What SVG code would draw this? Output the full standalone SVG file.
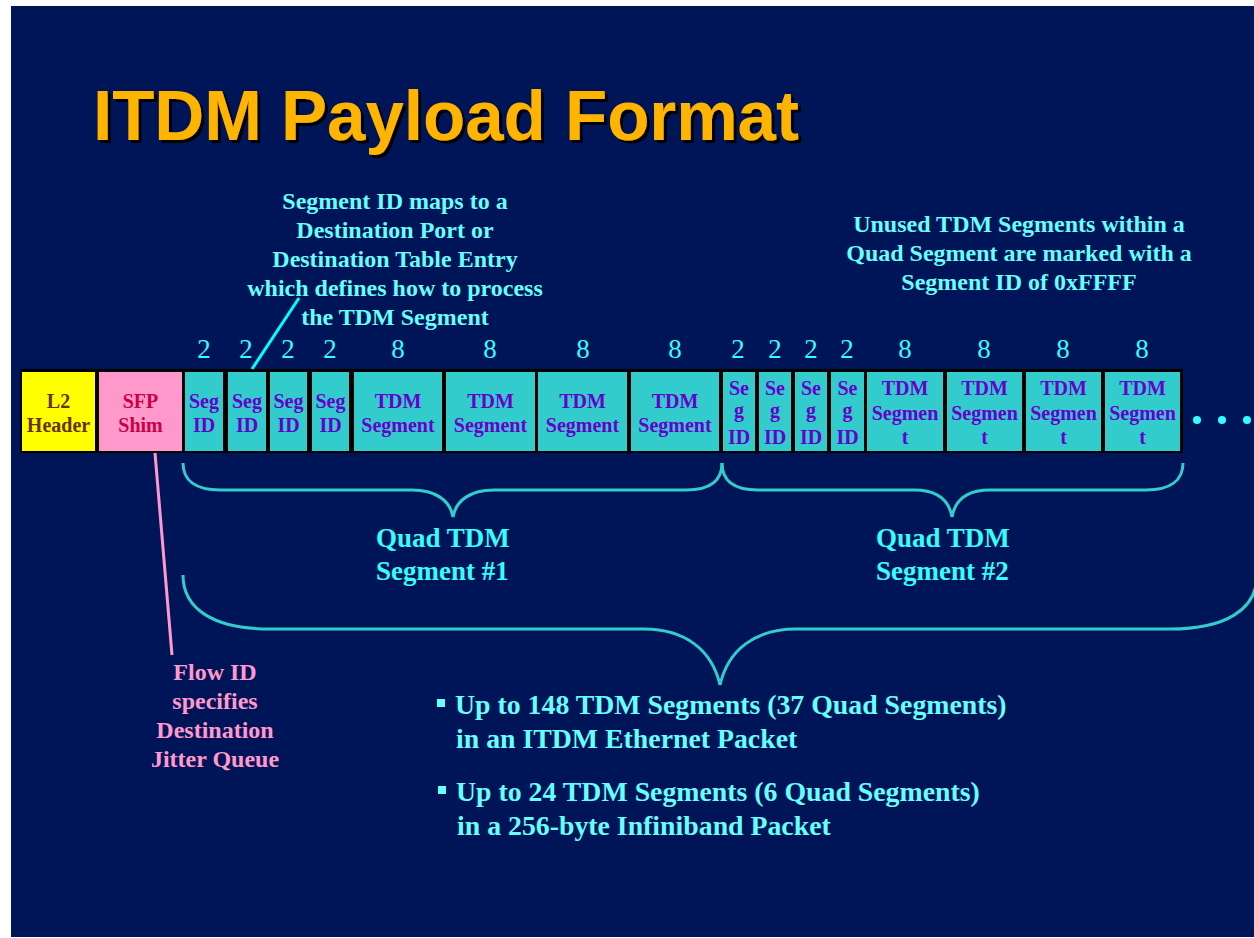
<svg xmlns="http://www.w3.org/2000/svg" width="1254" height="938" viewBox="0 0 1254 938">
<style>
.cell{fill:#33CCCC}
.ct{font-family:"Liberation Serif",serif;font-weight:bold;font-size:20px;fill:#6600CC;text-anchor:middle}
.num{font-family:"Liberation Serif",serif;font-size:27px;fill:#33FFFF;text-anchor:middle}
.note{font-family:"Liberation Serif",serif;font-weight:bold;font-size:24px;fill:#66FFFF;text-anchor:middle}
.pink{font-family:"Liberation Serif",serif;font-weight:bold;font-size:24px;fill:#FF99CC;text-anchor:middle}
.quad{font-family:"Liberation Serif",serif;font-weight:bold;font-size:27px;fill:#33FFFF}
.bul{font-family:"Liberation Serif",serif;font-weight:bold;font-size:27.8px;fill:#66FFFF}
.brace{fill:none;stroke:#33CCCC;stroke-width:3}
</style>
<defs>
<filter id="shadow" x="-5%" y="-20%" width="110%" height="140%">
<feFlood flood-color="#000000" result="c"/>
<feComposite in="c" in2="SourceAlpha" operator="in" result="s"/>
<feOffset in="s" dx="3" dy="3" result="o"/>
<feMerge><feMergeNode in="o"/><feMergeNode in="SourceGraphic"/></feMerge>
</filter>
</defs>
<rect x="0" y="0" width="1254" height="938" fill="#FFFFFF"/>
<rect x="11" y="6" width="1243" height="931" fill="#001458"/>
<g id="title">
<text x="93" y="140" font-family="'Liberation Sans',Arial,sans-serif" font-weight="bold" font-size="71" fill="#FFB400" textLength="706" lengthAdjust="spacingAndGlyphs" filter="url(#shadow)">ITDM Payload Format</text>
</g>
<g id="numbers">
<text class="num" x="204" y="358">2</text>
<text class="num" x="246" y="358">2</text>
<text class="num" x="288" y="358">2</text>
<text class="num" x="330" y="358">2</text>
<text class="num" x="398" y="358">8</text>
<text class="num" x="490" y="358">8</text>
<text class="num" x="583" y="358">8</text>
<text class="num" x="675" y="358">8</text>
<text class="num" x="738" y="358">2</text>
<text class="num" x="775" y="358">2</text>
<text class="num" x="811" y="358">2</text>
<text class="num" x="847" y="358">2</text>
<text class="num" x="905" y="358">8</text>
<text class="num" x="984" y="358">8</text>
<text class="num" x="1063" y="358">8</text>
<text class="num" x="1142" y="358">8</text>
</g>
<rect x="20" y="369" width="1163" height="84" fill="#000000"/>
<g id="l2">
<rect x="22" y="372" width="73" height="79" fill="#FFFF00"/>
<text class="ct" x="58.5" y="408" style="fill:#663300">L2</text>
<text class="ct" x="58.5" y="432" style="fill:#663300">Header</text>
</g>
<g id="sfp">
<rect x="99" y="372" width="83" height="79" fill="#FF99CC"/>
<text class="ct" x="140.5" y="408" style="fill:#CC0044">SFP</text>
<text class="ct" x="140.5" y="432" style="fill:#CC0044">Shim</text>
</g>
<g id="seg1a"><rect class="cell" x="185" y="372" width="38" height="79"/><text class="ct" x="204" y="408">Seg</text><text class="ct" x="204" y="432">ID</text></g>
<g id="seg1b"><rect class="cell" x="228" y="372" width="38" height="79"/><text class="ct" x="247" y="408">Seg</text><text class="ct" x="247" y="432">ID</text></g>
<g id="seg1c"><rect class="cell" x="270" y="372" width="37" height="79"/><text class="ct" x="288.5" y="408">Seg</text><text class="ct" x="288.5" y="432">ID</text></g>
<g id="seg1d"><rect class="cell" x="312" y="372" width="37" height="79"/><text class="ct" x="330.5" y="408">Seg</text><text class="ct" x="330.5" y="432">ID</text></g>
<g id="tdm1a"><rect class="cell" x="354" y="372" width="88" height="79"/><text class="ct" x="398" y="408">TDM</text><text class="ct" x="398" y="432">Segment</text></g>
<g id="tdm1b"><rect class="cell" x="446" y="372" width="89" height="79"/><text class="ct" x="490.5" y="408">TDM</text><text class="ct" x="490.5" y="432">Segment</text></g>
<g id="tdm1c"><rect class="cell" x="538" y="372" width="89" height="79"/><text class="ct" x="582.5" y="408">TDM</text><text class="ct" x="582.5" y="432">Segment</text></g>
<g id="tdm1d"><rect class="cell" x="631" y="372" width="88" height="79"/><text class="ct" x="675" y="408">TDM</text><text class="ct" x="675" y="432">Segment</text></g>
<g id="seg2a"><rect class="cell" x="723" y="372" width="32" height="79"/><text class="ct" x="739" y="395">Se</text><text class="ct" x="739" y="417">g</text><text class="ct" x="739" y="444">ID</text></g>
<g id="seg2b"><rect class="cell" x="759" y="372" width="32" height="79"/><text class="ct" x="775" y="395">Se</text><text class="ct" x="775" y="417">g</text><text class="ct" x="775" y="444">ID</text></g>
<g id="seg2c"><rect class="cell" x="795" y="372" width="32" height="79"/><text class="ct" x="811" y="395">Se</text><text class="ct" x="811" y="417">g</text><text class="ct" x="811" y="444">ID</text></g>
<g id="seg2d"><rect class="cell" x="831" y="372" width="33" height="79"/><text class="ct" x="847.5" y="395">Se</text><text class="ct" x="847.5" y="417">g</text><text class="ct" x="847.5" y="444">ID</text></g>
<g id="tdm2a"><rect class="cell" x="867" y="372" width="76" height="79"/><text class="ct" x="905" y="395">TDM</text><text class="ct" x="905" y="420">Segmen</text><text class="ct" x="905" y="444">t</text></g>
<g id="tdm2b"><rect class="cell" x="947" y="372" width="75" height="79"/><text class="ct" x="984.5" y="395">TDM</text><text class="ct" x="984.5" y="420">Segmen</text><text class="ct" x="984.5" y="444">t</text></g>
<g id="tdm2c"><rect class="cell" x="1026" y="372" width="75" height="79"/><text class="ct" x="1063.5" y="395">TDM</text><text class="ct" x="1063.5" y="420">Segmen</text><text class="ct" x="1063.5" y="444">t</text></g>
<g id="tdm2d"><rect class="cell" x="1105" y="372" width="75" height="79"/><text class="ct" x="1142.5" y="395">TDM</text><text class="ct" x="1142.5" y="420">Segmen</text><text class="ct" x="1142.5" y="444">t</text></g>
<g id="dots" fill="#33FFFF">
<circle cx="1197" cy="420" r="4"/><circle cx="1222" cy="420" r="4"/><circle cx="1247" cy="420" r="4"/>
</g>
<g id="connectors">
<line x1="252" y1="369" x2="299" y2="298" stroke="#00FFFF" stroke-width="3"/>
<line x1="155" y1="453" x2="172" y2="655" stroke="#FF99CC" stroke-width="3"/>
<path class="brace" d="M183,463 C183,480 195,490 220,490 L412,490 C435,490 450,500 453,517 C456,500 471,490 494,490 L686,490 C711,490 722,480 722,463"/>
<path class="brace" d="M722,463 C722,480 733,490 758,490 L914,490 C937,490 949,500 952,517 C955,500 967,490 990,490 L1146,490 C1171,490 1183,480 1183,463"/>
<path class="brace" d="M183,575 C183,610 215,629 270,629 L644,629 C685,629 712,650 720,685 C728,650 755,629 796,629 L1170,629 C1225,629 1257,610 1257,575"/>
</g>
<g id="note-segid">
<text class="note" x="395" y="209">Segment ID maps to a</text>
<text class="note" x="395" y="238">Destination Port or</text>
<text class="note" x="395" y="267">Destination Table Entry</text>
<text class="note" x="395" y="296">which defines how to process</text>
<text class="note" x="395" y="325">the TDM Segment</text>
</g>
<g id="note-unused">
<text class="note" x="1019" y="232">Unused TDM Segments within a</text>
<text class="note" x="1019" y="261">Quad Segment are marked with a</text>
<text class="note" x="1019" y="290">Segment ID of 0xFFFF</text>
</g>
<g id="quad1">
<text class="quad" x="376" y="547">Quad TDM</text>
<text class="quad" x="376" y="580">Segment #1</text>
</g>
<g id="quad2">
<text class="quad" x="876" y="547">Quad TDM</text>
<text class="quad" x="876" y="580">Segment #2</text>
</g>
<g id="flow">
<text class="pink" x="215" y="680">Flow ID</text>
<text class="pink" x="215" y="709">specifies</text>
<text class="pink" x="215" y="738">Destination</text>
<text class="pink" x="215" y="767">Jitter Queue</text>
</g>
<g id="bullets">
<rect x="437" y="699" width="8" height="8" fill="#66FFFF"/>
<text class="bul" x="455" y="714">Up to 148 TDM Segments (37 Quad Segments)</text>
<text class="bul" x="456" y="748">in an ITDM Ethernet Packet</text>
<rect x="438" y="786" width="8" height="8" fill="#66FFFF"/>
<text class="bul" x="456" y="801">Up to 24 TDM Segments (6 Quad Segments)</text>
<text class="bul" x="457" y="835">in a 256-byte Infiniband Packet</text>
</g>
</svg>
